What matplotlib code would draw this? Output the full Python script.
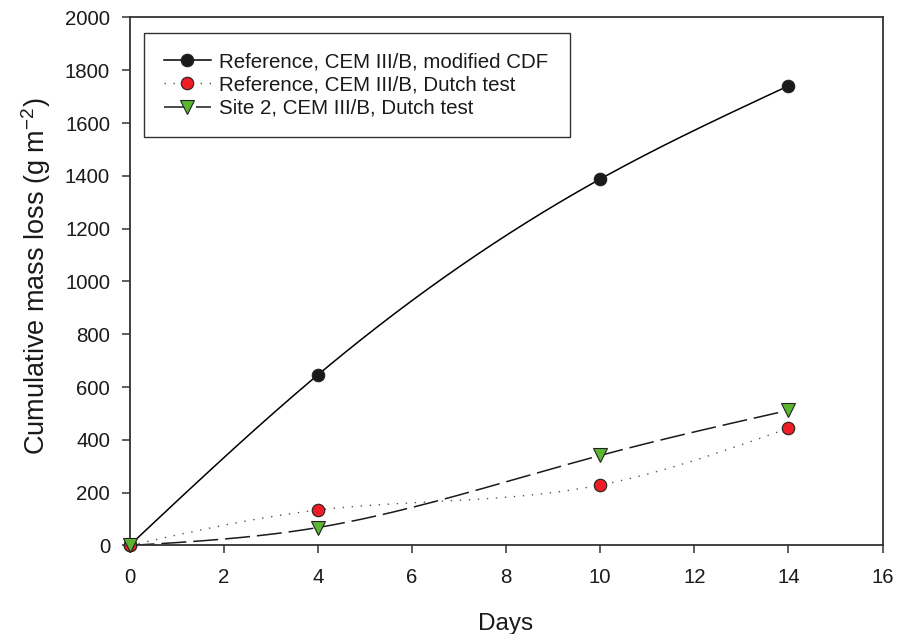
import numpy as np
import matplotlib
matplotlib.use("Agg")
import matplotlib.pyplot as plt

plt.rcParams['font.family'] = ['Liberation Sans', 'DejaVu Sans']
plt.rcParams['mathtext.default'] = 'regular'
plt.rcParams['lines.scale_dashes'] = False

days = [0, 4, 10, 14]
cdf_ref = [0, 646, 1388, 1741]
dutch_ref = [0, 134, 229, 444]
dutch_site2 = [0, 68, 341, 512]

labels = [
    "Reference, CEM III/B, modified CDF",
    "Reference, CEM III/B, Dutch test",
    "Site 2, CEM III/B, Dutch test",
]

x_ticks = list(range(0, 17, 2))
y_ticks = list(range(0, 2001, 200))


def natural_spline(x, y, n=200):
    """Natural cubic spline through the points (x, y)."""
    x = np.asarray(x, float)
    y = np.asarray(y, float)
    k = len(x)
    h = np.diff(x)
    A = np.zeros((k, k))
    b = np.zeros(k)
    A[0, 0] = 1.0
    A[-1, -1] = 1.0
    for i in range(1, k - 1):
        A[i, i - 1] = h[i - 1]
        A[i, i] = 2 * (h[i - 1] + h[i])
        A[i, i + 1] = h[i]
        b[i] = 6 * ((y[i + 1] - y[i]) / h[i] - (y[i] - y[i - 1]) / h[i - 1])
    m = np.linalg.solve(A, b)
    xs = np.linspace(x[0], x[-1], n)
    idx = np.clip(np.searchsorted(x, xs, side='right') - 1, 0, k - 2)
    x0, x1 = x[idx], x[idx + 1]
    hh = x1 - x0
    a = (x1 - xs) / hh
    bb = (xs - x0) / hh
    ys = (a * y[idx] + bb * y[idx + 1]
          + ((a ** 3 - a) * m[idx] + (bb ** 3 - bb) * m[idx + 1]) * hh ** 2 / 6)
    return xs, ys


fig = plt.figure(figsize=(9, 6.34), dpi=100)
ax = fig.add_axes([0.1439, 0.1396, 0.8367, 0.8328])

edge = '#222222'
series = [
    dict(y=cdf_ref, ls='-', dashes=None, lw=1.1,
         marker='o', mfc='#1a1a1a', ms=9, lcolor='black'),
    dict(y=dutch_ref, ls=':', dashes=(1.0, 5.5), lw=1.0,
         marker='o', mfc='#ee1c25', ms=9, lcolor='#555555'),
    dict(y=dutch_site2, ls='--', dashes=(18, 5), lw=1.1,
         marker='v', mfc='#5cb531', ms=9.6, lcolor='#1a1a1a'),
]

handles = []
for s, lab in zip(series, labels):
    xs, ys = natural_spline(days, s['y'])
    line, = ax.plot(xs, ys, color=s['lcolor'], lw=s['lw'], zorder=2)
    if s['dashes'] is not None:
        line.set_dashes(s['dashes'])
    ax.plot(days, s['y'], ls='none', marker=s['marker'], ms=s['ms'],
            mfc=s['mfc'], mec=edge, mew=0.8, zorder=3, clip_on=False)
    h, = ax.plot([], [], color=s['lcolor'], lw=s['lw'], marker=s['marker'],
                 ms=s['ms'], mfc=s['mfc'], mec=edge, mew=0.8)
    if s['dashes'] is not None:
        h.set_dashes(s['dashes'])
    handles.append(h)

ax.set_xlim(0, 16)
ax.set_ylim(0, 2000)
ax.set_xticks(x_ticks)
ax.set_yticks(y_ticks)

for sp in ax.spines.values():
    sp.set_color('#333333')
    sp.set_linewidth(1.3)

ax.tick_params(axis='both', direction='out', length=6, width=1.1,
               color='#333333', labelsize=14.7, pad=8, labelcolor='#1a1a1a',
               top=False, right=False)
ax.tick_params(axis='x', pad=10)

ax.set_xlabel('Days', fontsize=17.5, labelpad=19, color='#1a1a1a')
ax.set_ylabel('Cumulative mass loss (g m$^{-2}$)', fontsize=19.5,
              labelpad=6, color='#1a1a1a')
ax.yaxis.set_label_coords(-0.101, 0.51)

leg = ax.legend(handles, labels, loc='upper left',
                bbox_to_anchor=(0.0193, 0.9706, 0.566, 0.0),
                mode='expand', borderaxespad=0, fontsize=14.8,
                handlelength=2.3, handletextpad=0.4, labelspacing=0.2,
                borderpad=0.95, fancybox=False, framealpha=1,
                edgecolor='#333333')
leg.get_frame().set_linewidth(1.0)
for t in leg.get_texts():
    t.set_color('#1a1a1a')

fig.savefig('out.png', dpi=100)
